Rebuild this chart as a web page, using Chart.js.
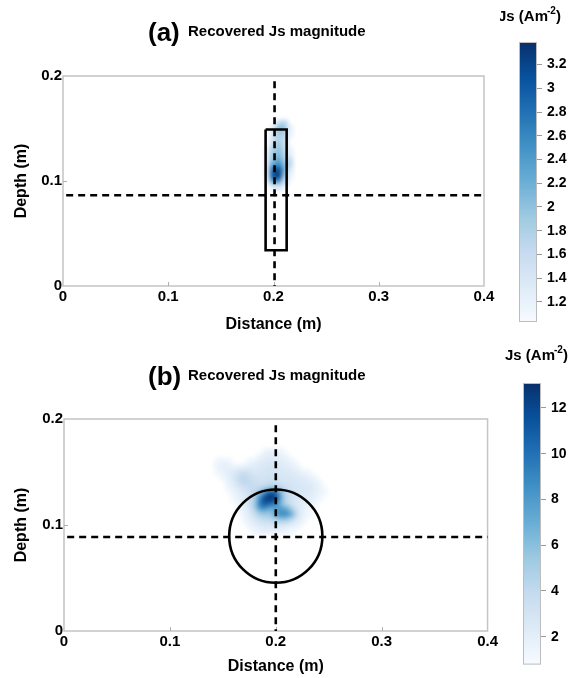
<!DOCTYPE html>
<html><head><meta charset="utf-8">
<script src="https://cdn.jsdelivr.net/npm/chart.js@4.4.1/dist/chart.umd.min.js"></script>
<style>
html,body{margin:0;padding:0;background:#fff;}
body{width:581px;height:678px;position:relative;overflow:hidden;}
canvas{position:absolute;display:block;}
</style></head><body>
<canvas id="ha" width="500" height="340" style="left:0;top:0"></canvas>
<canvas id="ca" width="81" height="340" style="left:500px;top:0"></canvas>
<canvas id="hb" width="500" height="338" style="left:0;top:340px"></canvas>
<canvas id="cb" width="81" height="338" style="left:500px;top:340px"></canvas>
<script>
// ---------------- data ----------------
const X_TICKS = [0, 0.1, 0.2, 0.3, 0.4];
const Y_TICKS = [0, 0.1, 0.2];
const CB_TICKS_A = [1.2, 1.4, 1.6, 1.8, 2, 2.2, 2.4, 2.6, 2.8, 3, 3.2];
const CB_TICKS_B = [2, 4, 6, 8, 10, 12];
const CB_RANGE_A = [1.03, 3.39];
const CB_RANGE_B = [0.78, 13.09];

// panel (a) recovered Js grid (x = distance, y = depth)
const GRID_A_X = [0.195, 0.200, 0.205, 0.210, 0.215];
const GRID_A_Y = [0.155, 0.150, 0.145, 0.140, 0.135, 0.130, 0.125, 0.120, 0.115, 0.110, 0.105, 0.100, 0.095];
const GRID_A = [
  [0,   0,   1.6, 1.7, 0  ],
  [0,   1.3, 2.0, 2.0, 1.3],
  [0,   1.4, 1.9, 1.8, 1.2],
  [0,   1.5, 1.8, 1.6, 0  ],
  [0,   1.6, 1.9, 1.6, 0  ],
  [1.2, 1.8, 2.0, 1.7, 1.2],
  [1.3, 1.9, 2.1, 1.8, 1.3],
  [1.3, 2.0, 2.3, 1.9, 1.6],
  [1.4, 2.3, 2.6, 2.1, 1.7],
  [1.4, 2.9, 3.2, 2.3, 1.4],
  [1.3, 3.1, 3.4, 2.1, 1.2],
  [1.2, 2.5, 2.7, 1.6, 0  ],
  [0,   1.4, 1.5, 0,   0  ]
];

// panel (b) recovered Js grid
const GRID_B_X = [0.140,0.145,0.150,0.155,0.160,0.165,0.170,0.175,0.180,0.185,0.190,0.195,0.200,0.205,0.210,0.215,0.220,0.225,0.230,0.235,0.240,0.245];
const GRID_B_Y = [0.170,0.165,0.160,0.155,0.150,0.145,0.140,0.135,0.130,0.125,0.120,0.115,0.110,0.105,0.100,0.095];
const GRID_B = [
  [0,0,0,0,0,0,0,0,0,0,1.3,1.6,1.6,1.3,0,0,0,0,0,0,0,0],
  [0,0,0,0,0,0,0,0,0,1.4,1.9,2.1,2.0,1.7,1.3,0,0,0,0,0,0,0],
  [0,1.4,1.6,1.4,0,0,0,1.3,1.6,2.0,2.3,2.4,2.3,2.1,1.8,1.4,0,0,0,0,0,0],
  [0,1.5,1.8,1.8,1.6,1.6,1.8,2.0,2.2,2.5,2.7,2.8,2.6,2.4,2.2,1.9,1.5,0,0,0,0,0],
  [0,1.2,1.6,2.0,2.3,2.8,3.2,3.0,2.6,2.7,2.9,3.0,2.8,2.6,2.5,2.3,2.0,1.6,1.3,0,0,0],
  [0,0,1.3,1.8,2.6,3.8,4.2,3.8,3.2,2.9,3.0,3.2,3.0,2.8,2.7,2.6,2.4,2.2,1.8,1.4,0,0],
  [0,0,0,1.5,2.3,3.5,4.0,4.0,3.5,3.2,3.3,3.6,3.4,3.1,2.9,2.8,2.7,2.5,2.3,2.0,1.5,0],
  [0,0,0,1.2,1.8,2.6,3.2,3.6,3.8,3.9,4.3,5.0,5.2,4.2,3.4,3.0,2.8,2.7,2.6,2.4,1.8,1.2],
  [0,0,0,0,1.4,2.0,2.6,3.2,4.0,5.5,8.5,11.5,11.0,6.5,4.0,3.2,2.8,2.6,2.5,2.2,1.7,1.2],
  [0,0,0,0,1.2,1.7,2.2,3.0,4.5,8.5,12.0,13.0,12.0,7.5,4.2,3.2,2.7,2.4,2.2,1.9,1.4,0],
  [0,0,0,0,0,1.4,2.0,2.8,5.0,9.5,11.5,10.5,9.5,6.5,4.2,3.0,2.5,2.0,1.7,1.3,0,0],
  [0,0,0,0,0,1.2,1.7,2.5,4.5,8.0,8.5,7.0,7.5,8.0,7.0,4.8,3.0,2.0,1.4,0,0,0],
  [0,0,0,0,0,0,1.4,2.2,3.4,5.0,5.5,5.5,7.5,8.8,8.8,7.0,3.8,2.0,1.3,0,0,0],
  [0,0,0,0,0,0,1.2,1.8,2.5,3.4,3.8,4.0,4.8,5.5,5.2,4.0,2.6,1.6,0,0,0,0],
  [0,0,0,0,0,0,0,1.4,2.0,2.5,2.8,2.8,3.0,3.0,2.8,2.2,1.6,0,0,0,0,0],
  [0,0,0,0,0,0,0,0,1.4,1.7,2.0,2.0,2.0,1.8,1.5,1.2,0,0,0,0,0,0]
];

// overlay geometry (data units)
const H_LINE_A_X = [0.003, 0.4];
const H_LINE_A_Y = [0.0865, 0.0865];
const V_LINE_A_X = [0.201, 0.201];
const V_LINE_A_Y = [0.195, 0];
const RECT_A_X = [0.1925, 0.2125, 0.2125, 0.1925, 0.1925];
const RECT_A_Y = [0.149, 0.149, 0.034, 0.034, 0.149];
const H_LINE_B_X = [0.003, 0.4];
const H_LINE_B_Y = [0.0887, 0.0887];
const V_LINE_B_X = [0.2, 0.2];
const V_LINE_B_Y = [0.194, 0];
const CIRCLE_B = [0.2, 0.0895, 0.044]; // centre x, centre depth, radius

// ---------------- styling helpers ----------------
const FONT = '"Liberation Sans", Arial, Helvetica, sans-serif';
const BLUES = ['#f7fbff','#deebf7','#c6dbef','#9ecae1','#6baed6','#4292c6','#2171b5','#08519c','#08306b'];
function hex(c){return [parseInt(c.slice(1,3),16),parseInt(c.slice(3,5),16),parseInt(c.slice(5,7),16)];}
const BLUES_RGB = BLUES.map(hex);
function blues(t){
  t = Math.max(0, Math.min(1, t));
  const p = t * (BLUES_RGB.length - 1);
  const i = Math.min(BLUES_RGB.length - 2, Math.floor(p));
  const f = p - i, a = BLUES_RGB[i], b = BLUES_RGB[i+1];
  return 'rgb(' + [0,1,2].map(k => Math.round(a[k] + (b[k]-a[k])*f)).join(',') + ')';
}
function pts(xs, ys){ return xs.map((x,i)=>({x:x, y:ys[i]})); }

function heatPlugin(xs, ys, grid, dx, dy, range, blur){
  return {
    id:'heat',
    beforeDatasetsDraw(chart){
      const {ctx, chartArea:a, scales:{x, y}} = chart;
      const off = document.createElement('canvas');
      off.width = chart.width; off.height = chart.height;
      const o = off.getContext('2d');
      grid.forEach((row, i) => row.forEach((v, j) => {
        if (!(v > 0)) return;
        const x0 = x.getPixelForValue(xs[j] - dx/2), x1 = x.getPixelForValue(xs[j] + dx/2);
        const y0 = y.getPixelForValue(ys[i] + dy/2), y1 = y.getPixelForValue(ys[i] - dy/2);
        o.fillStyle = blues((v - range[0]) / (range[1] - range[0]));
        o.fillRect(Math.floor(x0), Math.floor(y0), Math.ceil(x1 - x0) + 1, Math.ceil(y1 - y0) + 1);
      }));
      ctx.save();
      ctx.beginPath(); ctx.rect(a.left, a.top, a.right - a.left, a.bottom - a.top); ctx.clip();
      ctx.filter = 'blur(' + blur + 'px)';
      ctx.drawImage(off, 0, 0);
      ctx.restore();
      // frame and inner ticks
      ctx.save();
      ctx.strokeStyle = '#c4c4c4'; ctx.lineWidth = 1.5;
      ctx.strokeRect(a.left, a.top, a.right - a.left, a.bottom - a.top);
      ctx.strokeStyle = '#b0b0b0'; ctx.lineWidth = 1;
      X_TICKS.slice(1, -1).forEach(v => {
        const px = Math.round(x.getPixelForValue(v)) + 0.5;
        ctx.beginPath(); ctx.moveTo(px, a.bottom); ctx.lineTo(px, a.bottom - 4); ctx.stroke();
      });
      Y_TICKS.slice(1, -1).forEach(v => {
        const py = Math.round(y.getPixelForValue(v)) + 0.5;
        ctx.beginPath(); ctx.moveTo(a.left, py); ctx.lineTo(a.left + 4, py); ctx.stroke();
      });
      ctx.restore();
    }
  };
}

function titlePlugin(letter, text, base){
  return {
    id:'ptitle',
    afterDraw(chart){
      const ctx = chart.ctx;
      ctx.save();
      ctx.fillStyle = '#000'; ctx.textBaseline = 'alphabetic'; ctx.textAlign = 'left';
      ctx.font = 'bold 26px ' + FONT;
      ctx.fillText(letter, 148, base + 5);
      ctx.font = 'bold 15px ' + FONT;
      ctx.fillText(text, 188, base);
      ctx.restore();
    }
  };
}

function circlePlugin(c){
  return {
    id:'circle',
    afterDatasetsDraw(chart){
      const {ctx, scales:{x, y}} = chart;
      const cx = x.getPixelForValue(c[0]), cy = y.getPixelForValue(c[1]);
      const rx = Math.abs(x.getPixelForValue(c[0] + c[2]) - cx);
      const ry = Math.abs(y.getPixelForValue(c[1] + c[2]) - cy);
      ctx.save();
      ctx.strokeStyle = '#000'; ctx.lineWidth = 2.6;
      ctx.beginPath(); ctx.ellipse(cx, cy, rx, ry, 0, 0, Math.PI*2); ctx.stroke();
      ctx.restore();
    }
  };
}

function lineDs(xs, ys, dashed){
  return {
    data: pts(xs, ys), showLine:true, pointRadius:0, pointHoverRadius:0,
    borderColor:'#000', borderWidth:2.6, borderDash: dashed ? [7,5] : [],
    fill:false, tension:0, clip:false
  };
}

function heatChart(id, datasets, plugins, lay){
  return new Chart(document.getElementById(id), {
    type:'scatter',
    data:{datasets:datasets},
    plugins:plugins,
    options:{
      responsive:false, animation:false, devicePixelRatio:1,
      events:[],
      layout:{padding:{left:0, top:lay.top, right:lay.right, bottom:0}},
      plugins:{legend:{display:false}, tooltip:{enabled:false}, title:{display:false}},
      scales:{
        x:{
          type:'linear', min:0, max:0.4,
          afterBuildTicks(s){ s.ticks = X_TICKS.map(v=>({value:v})); },
          afterFit(s){ s.height = lay.xh; },
          grid:{display:false, drawTicks:false}, border:{display:false},
          ticks:{color:'#000', padding:2, maxRotation:0, autoSkip:false,
                 font:{family:FONT, size:15, weight:'bold'}, callback:v=>String(v)},
          title:{display:true, text:'Distance (m)', color:'#000',
                 font:{family:FONT, size:16, weight:'bold', lineHeight:1.2},
                 padding:{top:0, bottom:lay.xtb}}
        },
        y:{
          type:'linear', min:0, max:0.2,
          afterBuildTicks(s){ s.ticks = Y_TICKS.map(v=>({value:v})); },
          afterFit(s){ s.width = lay.yw; },
          grid:{display:false, drawTicks:false}, border:{display:false},
          ticks:{color:'#000', padding:1, autoSkip:false,
                 font:{family:FONT, size:15, weight:'bold'}, callback:v=>String(v)},
          title:{display:true, text:'Depth (m)', color:'#000',
                 font:{family:FONT, size:16, weight:'bold', lineHeight:1.2},
                 padding:{top:12.4, bottom:0}}
        }
      }
    }
  });
}

function colorbar(id, range, ticks, lay){
  const gradPlugin = {
    id:'grad',
    beforeDatasetsDraw(chart){
      const {ctx, chartArea:a, scales:{y}} = chart;
      for (let py = Math.floor(a.top); py < Math.ceil(a.bottom); py++){
        const v = y.getValueForPixel(py + 0.5);
        ctx.fillStyle = blues((v - range[0]) / (range[1] - range[0]));
        ctx.fillRect(a.left, py, a.right - a.left, 1);
      }
      ctx.save();
      ctx.strokeStyle = '#bdbdbd'; ctx.lineWidth = 1;
      ctx.strokeRect(a.left + 0.5, a.top + 0.5, a.right - a.left - 1, a.bottom - a.top - 1);
      ctx.restore();
    },
    afterDraw(chart){
      const ctx = chart.ctx;
      ctx.save();
      ctx.fillStyle = '#000'; ctx.textBaseline = 'alphabetic'; ctx.textAlign = 'left';
      let x = lay.tx;
      ctx.font = 'bold 15px ' + FONT;
      ctx.fillText('Js (Am', x, lay.ty); x += ctx.measureText('Js (Am').width;
      ctx.font = 'bold 10px ' + FONT;
      ctx.fillText('-2', x - 1, lay.ty - 7); x += ctx.measureText('-2').width - 1;
      ctx.font = 'bold 15px ' + FONT;
      ctx.fillText(')', x, lay.ty);
      ctx.restore();
    }
  };
  return new Chart(document.getElementById(id), {
    type:'scatter',
    data:{datasets:[]},
    plugins:[gradPlugin],
    options:{
      responsive:false, animation:false, devicePixelRatio:1, events:[],
      layout:{padding:{left:lay.left, top:lay.top, right:0, bottom:lay.bottom}},
      plugins:{legend:{display:false}, tooltip:{enabled:false}},
      scales:{
        x:{display:false, min:0, max:1},
        y:{
          type:'linear', position:'right', min:range[0], max:range[1],
          afterBuildTicks(s){ s.ticks = ticks.map(v=>({value:v})); },
          afterFit(s){ s.width = lay.yw; },
          grid:{display:true, drawOnChartArea:false, drawTicks:true, tickLength:5, color:'#9a9a9a', lineWidth:1},
          border:{display:false},
          ticks:{color:'#000', padding:5, autoSkip:false,
                 font:{family:FONT, size:14, weight:'bold'}, callback:v=>String(v)}
        }
      }
    }
  });
}

// ---------------- panel (a) ----------------
heatChart('ha', [
  lineDs(H_LINE_A_X, H_LINE_A_Y, true),
  lineDs(V_LINE_A_X, V_LINE_A_Y, true),
  lineDs(RECT_A_X, RECT_A_Y, false)
], [
  heatPlugin(GRID_A_X, GRID_A_Y, GRID_A, 0.005, 0.005, CB_RANGE_A, 2),
  titlePlugin('(a)', 'Recovered Js magnitude', 36)
], {top:76, right:16, xh:54, yw:63, xtb:5.4});

colorbar('ca', CB_RANGE_A, CB_TICKS_A, {left:19, top:42, bottom:18, yw:44, tx:-2, ty:21});

// ---------------- panel (b) ----------------
heatChart('hb', [
  lineDs(H_LINE_B_X, H_LINE_B_Y, true),
  lineDs(V_LINE_B_X, V_LINE_B_Y, true)
], [
  heatPlugin(GRID_B_X, GRID_B_Y, GRID_B, 0.005, 0.005, CB_RANGE_B, 2.5),
  circlePlugin(CIRCLE_B),
  titlePlugin('(b)', 'Recovered Js magnitude', 40)
], {top:79, right:12, xh:47, yw:64, xtb:1.6});

colorbar('cb', CB_RANGE_B, CB_TICKS_B, {left:23, top:43, bottom:13, yw:40, tx:5, ty:20});
</script>
</body></html>
